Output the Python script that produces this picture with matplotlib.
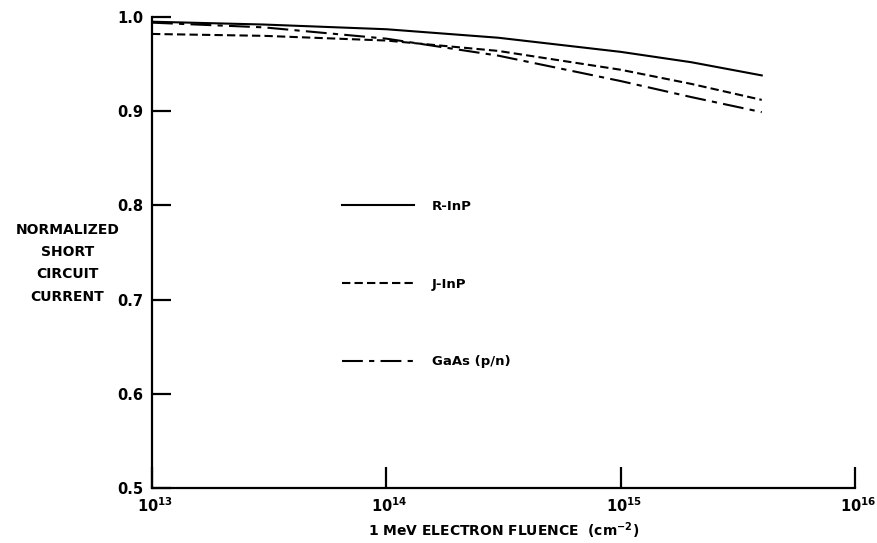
import matplotlib
matplotlib.use('Agg')
import matplotlib.pyplot as plt
import matplotlib.transforms as mtransforms

# fluence (cm^-2) and normalized Isc
fluence = [1e13, 3e13, 1e14, 3e14, 1e15, 2e15, 4e15]
r_inp = [0.995, 0.992, 0.987, 0.978, 0.963, 0.952, 0.938]
j_inp = [0.982, 0.980, 0.975, 0.964, 0.944, 0.929, 0.912]
gaas = [0.994, 0.989, 0.977, 0.959, 0.932, 0.915, 0.899]

xticks = [1e13, 1e14, 1e15, 1e16]
xticklabels = ['$\\mathbf{10^{13}}$', '$\\mathbf{10^{14}}$', '$\\mathbf{10^{15}}$', '$\\mathbf{10^{16}}$']
yticks = [0.5, 0.6, 0.7, 0.8, 0.9, 1.0]
yticklabels = ['0.5', '0.6', '0.7', '0.8', '0.9', '1.0']

plt.rcParams['font.family'] = ['DejaVu Sans']
plt.rcParams['font.weight'] = 'bold'
plt.rcParams['mathtext.fontset'] = 'dejavusans'

fig = plt.figure(figsize=(8.78, 5.43), dpi=100)
ax = fig.add_axes([0.1731, 0.1013, 0.8007, 0.8674])

ax.plot(fluence, r_inp, color='black', lw=1.5, ls='-', label='R-InP')
ax.plot(fluence, j_inp, color='black', lw=1.5, ls=(0, (4, 2)), label='J-InP')
ax.plot(fluence, gaas, color='black', lw=1.5, ls=(0, (10, 3, 2.5, 3)), label='GaAs (p/n)')

ax.set_xscale('log')
ax.set_xlim(1e13, 1e16)
ax.set_ylim(0.5, 1.0)
ax.set_xticks(xticks)
ax.set_xticklabels(xticklabels)
ax.minorticks_off()
ax.set_yticks(yticks)
ax.set_yticklabels(yticklabels)

ax.spines['top'].set_visible(False)
ax.spines['right'].set_visible(False)
for s in ['left', 'bottom']:
    ax.spines[s].set_linewidth(1.6)

ax.tick_params(axis='y', direction='in', length=14, width=1.6, pad=6, labelsize=10.5)
ax.tick_params(axis='x', direction='in', length=15, width=1.6, pad=6, labelsize=10.5)

# labels in the original sit a little right of their ticks
shift = mtransforms.ScaledTranslation(3 / 100, 0, fig.dpi_scale_trans)
for lbl in ax.get_xticklabels():
    lbl.set_transform(lbl.get_transform() + shift)

ax.set_xlabel('1 MeV ELECTRON FLUENCE  (cm$^{\\mathbf{-2}}$)', fontsize=10, fontweight='bold', labelpad=4)

fig.text(0.077, 0.515, 'NORMALIZED\nSHORT\nCIRCUIT\nCURRENT', ha='center', va='center',
         fontsize=10, fontweight='bold', linespacing=1.75)

ax.legend(loc='center left', bbox_to_anchor=(0.270, 0.433), frameon=False,
          handlelength=5.5, handletextpad=1.3, labelspacing=4.9, borderpad=0,
          borderaxespad=0, prop={'size': 9.5, 'weight': 'bold'})

fig.savefig('out.png', dpi=100)
